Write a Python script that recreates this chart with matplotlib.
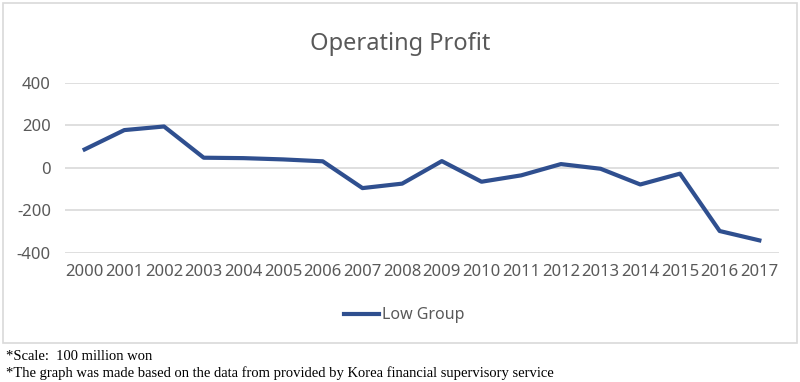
import matplotlib.pyplot as plt
from matplotlib.patches import Rectangle

years = [str(y) for y in range(2000, 2018)]
low_group = [86, 177, 194, 47, 45, 39, 30, -96, -75, 31, -66, -36, 17, -5, -79, -28, -298, -342]
y_ticks = [-400, -200, 0, 200, 400]

text_col = '#595959'
line_col = '#2F4F8F'

fig = plt.figure(figsize=(8, 3.82), dpi=100)
ax = fig.add_axes([0.081, 0.3385, 0.893, 0.445])

# outer chart border
fig.patches.append(Rectangle((0.004, 0.102), 0.992, 0.89, transform=fig.transFigure,
                             fill=False, edgecolor='#D9D9D9', linewidth=1.2))

x = range(len(years))
ax.plot(x, low_group, color=line_col, linewidth=3, label='Low Group', solid_joinstyle='round')

ax.set_xlim(-0.5, len(years) - 0.5)
ax.set_ylim(-400, 400)
ax.set_yticks(y_ticks)
ax.set_yticklabels([str(v) for v in y_ticks])
ax.set_xticks(list(x))
ax.set_xticklabels(years)
ax.grid(axis='y', color='#D9D9D9', linewidth=1.2)
ax.set_axisbelow(True)
for s in ax.spines.values():
    s.set_visible(False)
ax.tick_params(length=0, labelsize=12, colors=text_col, labelfontfamily='Noto Sans')
ax.tick_params(axis='y', pad=10)
ax.tick_params(axis='x', pad=8)

fig.text(0.5, 0.885, 'Operating Profit', ha='center', va='center', fontsize=17,
         color=text_col, family='Noto Sans')

leg = fig.legend(loc='center', bbox_to_anchor=(0.505, 0.175), frameon=False,
                 prop={'family': 'Noto Sans', 'size': 11.5}, handlelength=2.2, handletextpad=0.2)
for t in leg.get_texts():
    t.set_color(text_col)

fig.text(0.008, 0.068, '*Scale:  100 million won', fontsize=10.5, family='Liberation Serif', va='center')
fig.text(0.008, 0.022, '*The graph was made based on the data from provided by Korea financial supervisory service',
         fontsize=10.5, family='Liberation Serif', va='center')

fig.savefig('out.png', dpi=100)
